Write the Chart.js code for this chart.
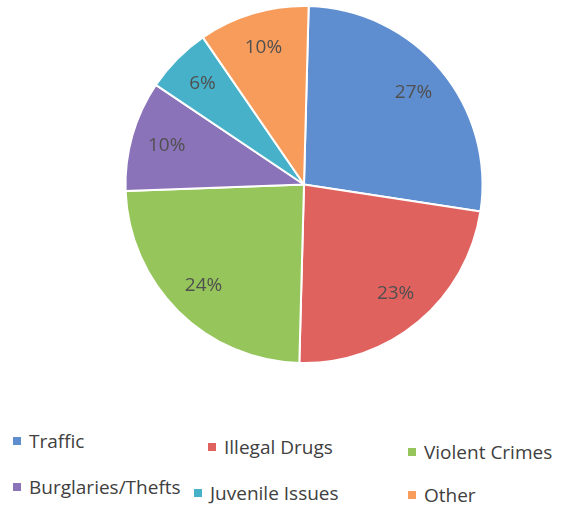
<!DOCTYPE html>
<html>
<head>
<meta charset="utf-8">
<script src="https://cdn.jsdelivr.net/npm/chart.js@4.4.1/dist/chart.umd.min.js"></script>
<style>
  body { margin: 0; background: #fff; width: 567px; height: 508px; overflow: hidden; position: relative; }
  #wrap { position: absolute; left: 0; top: 0; width: 567px; height: 372px; }
  #legend { position: absolute; left: 0; top: 420px; width: 567px; font-family: "Open Sans", sans-serif; font-size: 19px; color: #404040; }
  .item { position: absolute; white-space: nowrap; line-height: 24px; }
  .box { display: inline-block; width: 8px; height: 8px; margin-right: 8px; vertical-align: 3px; }
</style>
</head>
<body>
<div id="wrap"><canvas id="pie"></canvas></div>
<div id="legend"></div>
<script>
const categories = ['Traffic', 'Illegal Drugs', 'Violent Crimes', 'Burglaries/Thefts', 'Juvenile Issues', 'Other'];
const percentages = [27, 23, 24, 10, 6, 10];
const sliceColors = ['#5e8ecf', '#e0625f', '#96c65b', '#8b73b9', '#46b1c9', '#f89c5b'];

// legend spots (left, top) in the same order as categories
const legendSpots = [[13, 9], [208, 15], [408, 20], [13, 55], [194, 61], [408, 63]];

const labelPlugin = {
  id: 'pctLabels',
  afterDatasetsDraw(chart) {
    const ctx = chart.ctx;
    const meta = chart.getDatasetMeta(0);
    ctx.save();
    ctx.font = '19px "Open Sans", sans-serif';
    ctx.fillStyle = '#505050';
    ctx.textAlign = 'center';
    ctx.textBaseline = 'middle';
    meta.data.forEach((arc, i) => {
      const mid = (arc.startAngle + arc.endAngle) / 2;
      const r = arc.outerRadius * 0.8;
      ctx.fillText(percentages[i] + '%', arc.x + Math.cos(mid) * r, arc.y + Math.sin(mid) * r);
    });
    ctx.restore();
  }
};

new Chart(document.getElementById('pie'), {
  type: 'pie',
  data: {
    labels: categories,
    datasets: [{
      data: percentages,
      backgroundColor: sliceColors,
      borderColor: '#ffffff',
      borderWidth: 2
    }]
  },
  options: {
    responsive: true,
    maintainAspectRatio: false,
    animation: false,
    rotation: 1.5,
    layout: { padding: { left: 41, right: 0, top: 5, bottom: 8 } },
    plugins: {
      legend: { display: false },
      tooltip: { enabled: false }
    }
  },
  plugins: [labelPlugin]
});

const legend = document.getElementById('legend');
categories.forEach((name, i) => {
  const el = document.createElement('div');
  el.className = 'item';
  el.style.left = legendSpots[i][0] + 'px';
  el.style.top = legendSpots[i][1] + 'px';
  el.innerHTML = '<span class="box" style="background:' + sliceColors[i] + '"></span>' + name;
  legend.appendChild(el);
});
</script>
</body>
</html>
